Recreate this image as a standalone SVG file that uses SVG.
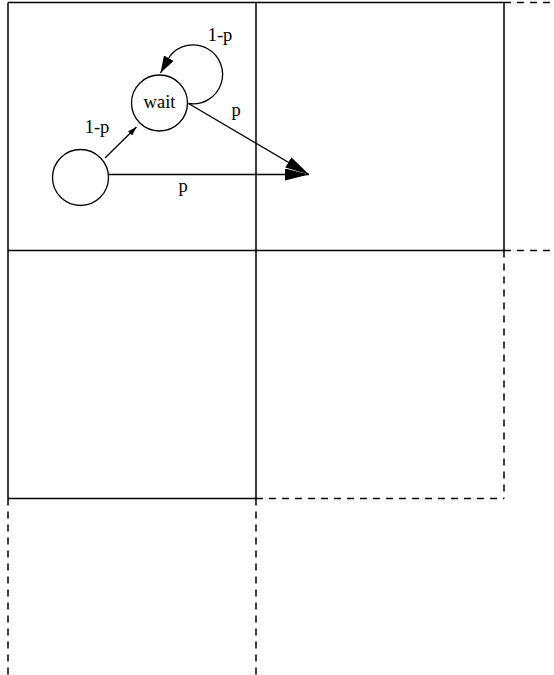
<svg xmlns="http://www.w3.org/2000/svg" width="554" height="675" viewBox="0 0 554 675">
<style>
.solid{fill:none;stroke:#000;stroke-width:1.5}
.dash{fill:none;stroke:#000;stroke-width:1.5;stroke-dasharray:7 6}
.edge{fill:none;stroke:#000;stroke-width:1.3}
.node{fill:#fff;stroke:#000;stroke-width:1.3}
text{font-family:"Liberation Serif","Times New Roman",serif;font-size:18.5px;fill:#000;text-anchor:middle}
</style>
<defs>
<marker id="big" markerUnits="userSpaceOnUse" markerWidth="26" markerHeight="14" refX="24" refY="6" orient="auto"><path d="M0,0 L24,6 L0,12 z" fill="#000"/></marker>
<marker id="mid" markerUnits="userSpaceOnUse" markerWidth="19" markerHeight="13" refX="17" refY="5.5" orient="auto"><path d="M0,0 L17,5.5 L0,11 z" fill="#000"/></marker>
<marker id="small" markerUnits="userSpaceOnUse" markerWidth="11" markerHeight="8" refX="9" refY="3" orient="auto"><path d="M0,0 L9,3 L0,6 z" fill="#000"/></marker>
</defs>
<g id="grid">
<path class="solid" d="M8,2.5 H504 M8,2.5 V498.5 M256,2.5 V498.5 M8,250.5 H504 M504,2.5 V250.5 M8,498.5 H256"/>
<path class="dash" d="M256,498.5 H504 M504,250.5 V498.5 M504,2.5 H554 M504,250.5 H554 M8,498.5 V675 M256,498.5 V675"/>
</g>
<g id="connectors">
<path class="edge" d="M105,158 L136.5,127" marker-end="url(#small)"/>
<path class="edge" d="M188.5,103.5 A29.5,29.5 0 1 0 170,56 L160.5,73" marker-end="url(#mid)"/>
<path class="edge" d="M188.5,103.5 L309,174.5" marker-end="url(#big)"/>
<path class="edge" d="M109,174.5 L309,174.5" marker-end="url(#big)"/>
</g>
<g id="node-start"><circle class="node" cx="80.5" cy="177.5" r="28"/></g>
<g id="node-wait"><circle class="node" cx="159.5" cy="103" r="28"/><text x="159.5" y="108">wait</text></g>
<g id="labels">
<text x="97" y="133">1-p</text>
<text x="220" y="41">1-p</text>
<text x="236" y="116">p</text>
<text x="183" y="192">p</text>
</g>
</svg>
